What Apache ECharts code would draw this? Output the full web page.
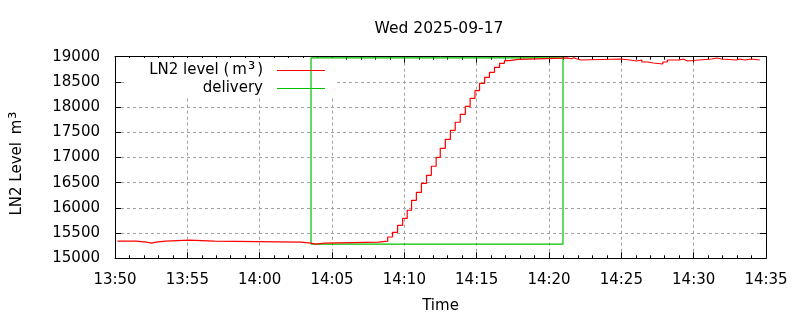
<!DOCTYPE html>
<html>
<head>
<meta charset="utf-8">
<script src="https://cdn.jsdelivr.net/npm/echarts@6/dist/echarts.min.js"></script>
<style>html,body{margin:0;padding:0;background:#fff}#c{width:800px;height:320px}</style>
</head>
<body>
<div id="c"></div>
<script>
const titleText = 'Wed 2025-09-17';
const xTickStart = '13:50';
const levelTimes = ['13:50:10','13:51:29','13:52:11','13:52:32','13:52:49','13:53:30','13:55:09','13:56:52','14:02:51','14:03:33','14:03:52','14:04:30','14:08:13','14:08:51','14:09:11','14:09:32','14:09:53','14:10:12','14:10:30','14:10:50','14:11:11','14:11:32','14:11:52','14:12:12','14:12:29','14:12:50','14:13:11','14:13:31','14:13:52','14:14:13','14:14:33','14:14:53','14:15:12','14:15:33','14:15:53','14:16:14','14:16:35','14:16:55','14:17:16','14:17:53','14:20:58','14:21:16','14:21:33','14:21:43','14:21:54','14:22:13','14:24:56','14:25:37','14:26:02','14:26:25','14:26:49','14:27:13','14:27:52','14:28:11','14:29:01','14:29:17','14:29:34','14:30:23','14:31:14','14:31:35','14:31:56','14:32:58','14:33:11','14:33:32','14:33:59','14:34:34'];
const levelValues = [15340,15320,15300,15320,15340,15360,15340,15320,15300,15280,15300,15320,15340,15423,15516,15655,15794,15953,16151,16310,16488,16647,16826,17004,17183,17361,17540,17699,17857,18016,18175,18325,18472,18591,18690,18790,18869,18921,18948,18970,18975,18960,18980,18960,18935,18954,18935,18915,18935,18895,18875,18855,18895,18935,18954,18915,18935,18954,18974,18954,18935,18954,18935,18954,18935,18935];
const deliveryTimes = ['14:03:33','14:03:33','14:20:58','14:20:58','14:03:33'];
const deliveryValues = [15280,18975,18975,15280,15280];
const yTicks = [15000,15500,16000,16500,17000,17500,18000,18500,19000];

const FONT = 'DejaVu Sans';
function toMin(s){const p=s.split(':').map(Number);const b=xTickStart.split(':').map(Number);return (p[0]*60+p[1]+(p[2]||0)/60)-(b[0]*60+b[1]);}
function fmtMin(v){const b=xTickStart.split(':').map(Number);const t=Math.round(b[0]*60+b[1]+v);const h=Math.floor(t/60),m=t%60;return String(h).padStart(2,'0')+':'+String(m).padStart(2,'0');}
const levelData = levelTimes.map((t,i)=>[toMin(t),levelValues[i]]);
const deliveryData = deliveryTimes.map((t,i)=>[toMin(t),deliveryValues[i]]);

const chart = echarts.init(document.getElementById('c'));
const supRich = {
  m:{fontSize:15,fontFamily:FONT,color:'#000',lineHeight:16,padding:[0,0,0,3]},
  sup:{fontSize:18,lineHeight:16,fontFamily:FONT,color:'#000',padding:[0,2,0,1]}
};
const axisCommon = {
  axisLine:{show:true,onZero:false,lineStyle:{color:'#000',width:1}},
  axisTick:{show:true,inside:true,length:6,lineStyle:{color:'#000'}},
};
chart.setOption({
  animation:false,
  backgroundColor:'#fff',
  textStyle:{fontFamily:FONT},
  title:{text:titleText,left:439,textAlign:'center',top:21,padding:0,textStyle:{fontFamily:FONT,fontSize:15.5,fontWeight:'normal',color:'#000'}},
  grid:{left:112.5,right:34,top:56.7,bottom:61.7,containLabel:false},
  graphic:[{type:'rect',z:1,shape:{x:124,y:58,width:210,height:39},style:{fill:'#fff'}}],
  legend:[
    {z:10,data:['LN2 level (m³)'],right:475,top:61.5,padding:0,align:'right',icon:'rect',itemWidth:48,itemHeight:1,
     formatter:()=> 'LN2 level ({m|m}{sup|³})',
     textStyle:{fontFamily:FONT,fontSize:15,color:'#000',lineHeight:16,padding:[0,9,0,0],rich:supRich}},
    {z:10,data:['delivery'],right:475,top:80.5,padding:0,align:'right',icon:'rect',itemWidth:48,itemHeight:1,
     textStyle:{fontFamily:FONT,fontSize:15,color:'#000',lineHeight:16,padding:[0,9,0,0]}}
  ],
  xAxis:[
    Object.assign({type:'value',min:0,max:45,interval:5,position:'bottom',
      name:'Time',nameLocation:'middle',nameGap:40,nameTextStyle:{fontFamily:FONT,fontSize:15,color:'#000'},
      axisLabel:{formatter:fmtMin,margin:14,fontFamily:FONT,fontSize:15,color:'#000'},
      minorTick:{show:true,splitNumber:5,length:3,lineStyle:{color:'#000'}},
      splitLine:{show:true,lineStyle:{color:'#a0a0a0',type:[3,3],width:1}}},axisCommon),
    Object.assign({type:'value',min:0,max:45,interval:5,position:'top',
      axisLabel:{show:false},
      minorTick:{show:true,splitNumber:5,length:3,lineStyle:{color:'#000'}},
      splitLine:{show:false}},axisCommon)
  ],
  yAxis:[
    Object.assign({type:'value',min:yTicks[0],max:yTicks[yTicks.length-1],interval:yTicks[1]-yTicks[0],position:'left',
      name:'LN2 Level {m|m}{sup|³}',nameLocation:'middle',nameGap:90,nameRotate:90,
      nameTextStyle:{fontFamily:FONT,fontSize:15,color:'#000',lineHeight:16,padding:[0,10,0,0],rich:supRich},
      axisLabel:{margin:15,fontFamily:FONT,fontSize:15,color:'#000',formatter:(v)=>String(v)},
      splitLine:{show:true,lineStyle:{color:'#a0a0a0',type:[3,3],width:1}}},axisCommon),
    Object.assign({type:'value',min:yTicks[0],max:yTicks[yTicks.length-1],interval:yTicks[1]-yTicks[0],position:'right',
      axisLabel:{show:false},splitLine:{show:false}},axisCommon)
  ],
  series:[
    {name:'LN2 level (m³)',type:'line',step:'end',data:levelData,symbol:'none',lineStyle:{color:'#ff0000',width:1.2},itemStyle:{color:'#ff0000'},z:3},
    {name:'delivery',type:'line',data:deliveryData,symbol:'none',lineStyle:{color:'#00c000',width:1.2},itemStyle:{color:'#00c000'},z:2}
  ]
});
</script>
</body>
</html>
